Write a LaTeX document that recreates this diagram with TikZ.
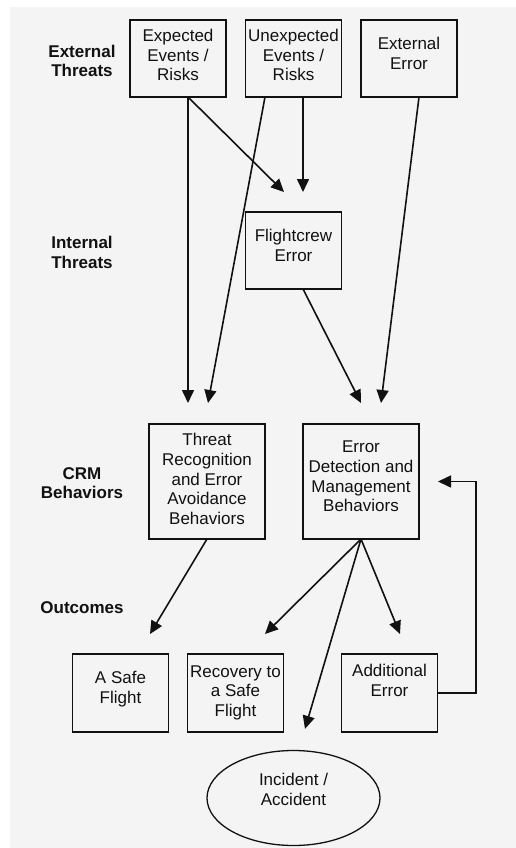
\documentclass[tikz,border=0pt]{standalone}
\usepackage{fontspec}
\setmainfont{Liberation Sans}
\usepackage{xcolor}
\usepackage{tikz}
\usetikzlibrary{arrows.meta,shapes.geometric}
\definecolor{paper}{HTML}{F4F4F4}
\definecolor{ink}{HTML}{111111}
\newcommand\lowpad[1]{\rule[-#1]{0pt}{#1}}
\tikzset{
  box/.style={draw=ink, line width=1.3pt, fill=paper, inner sep=1pt, align=center, minimum width=96pt, minimum height=77pt, outer sep=0pt},
  bigbox/.style={box, minimum width=116pt, minimum height=115pt},
  oval/.style={ellipse, draw=ink, line width=1.3pt, inner sep=0pt, align=center, minimum width=173pt, minimum height=95pt},
  rowlabel/.style={font=\fontsize{17}{19.7}\selectfont\bfseries, align=center},
  flow/.style={-{Triangle[length=13pt,width=12pt]}, line width=1.6pt, draw=ink},
}

\begin{document}
\begin{tikzpicture}[x=1pt, y=1pt, every node/.style={font=\fontsize{17}{19.7}\selectfont, text=ink}]
  \useasboundingbox (0,0) rectangle (516,-848);
  \fill[paper] (10,-7) rectangle (516,-848);
  % row labels
  \node[rowlabel] (lext) at (82,-61) {External\\Threats};
  \node[rowlabel] (lint) at (82,-252.5) {Internal\\Threats};
  \node[rowlabel] (lcrm) at (82,-483) {CRM\\Behaviors};
  \node[rowlabel] (lout) at (82,-608) {Outcomes};
  % boxes
  \node[box] (exp) at (178,-58.5) {Expected\\Events /\\Risks\lowpad{7pt}};
  \node[box] (unexp) at (293.5,-58.5) {Unexpected\\Events /\\Risks\lowpad{7pt}};
  \node[box] (exterr) at (409,-58.5) {External\\Error\lowpad{10pt}};
  \node[box] (crew) at (293.5,-250.5) {Flightcrew\\Error\lowpad{10pt}};
  \node[bigbox] (threat) at (207,-481.5) {Threat\\Recognition\\and Error\\Avoidance\\Behaviors\lowpad{5pt}};
  \node[bigbox] (errdet) at (361,-481.5) {Error\\Detection and\\Management\\Behaviors\lowpad{10pt}};
  \node[box,minimum height=78pt] (safe) at (120.5,-693) {A Safe\\Flight\lowpad{12pt}};
  \node[box,minimum height=78pt] (recov) at (235.5,-693) {Recovery to\\a Safe\\Flight\lowpad{4pt}};
  \node[box,minimum height=78pt] (adderr) at (389.5,-693) {Additional\\Error\lowpad{25pt}};
  \node[oval] (incid) at (293.5,-798) {Incident /\\Accident\lowpad{17pt}};
  % connectors
  \draw[flow] ([xshift=10pt]exp.south) -- ([shift={(-19pt,21pt)}]threat.north);
  \draw[flow] ([xshift=10pt]exp.south) -- ([shift={(-9.5pt,20pt)}]crew.north);
  \draw[flow] ([xshift=-28.5pt]unexp.south) -- ([shift={(1pt,21pt)}]threat.north);
  \draw[flow] ([xshift=9.5pt]unexp.south) -- ([shift={(9.5pt,20pt)}]crew.north);
  \draw[flow] ([xshift=10pt]exterr.south) -- ([shift={(20pt,21pt)}]errdet.north);
  \draw[flow] ([xshift=9.5pt]crew.south) -- ([yshift=21pt]errdet.north);
  \draw[flow] (threat.south) -- ([shift={(29.5pt,20pt)}]safe.north);
  \foreach \dx/\tgt in {29.5/recov,10.5/adderr}{\draw[flow] (errdet.south) -- ([shift={(\dx pt,20pt)}]\tgt.north);}
  \draw[flow] (errdet.south) -- ([shift={(11.5pt,21pt)}]incid.north);
  \draw[flow] (adderr.east) -- ++(38.5,0) |- ([xshift=19pt]errdet.east);
\end{tikzpicture}
\end{document}
